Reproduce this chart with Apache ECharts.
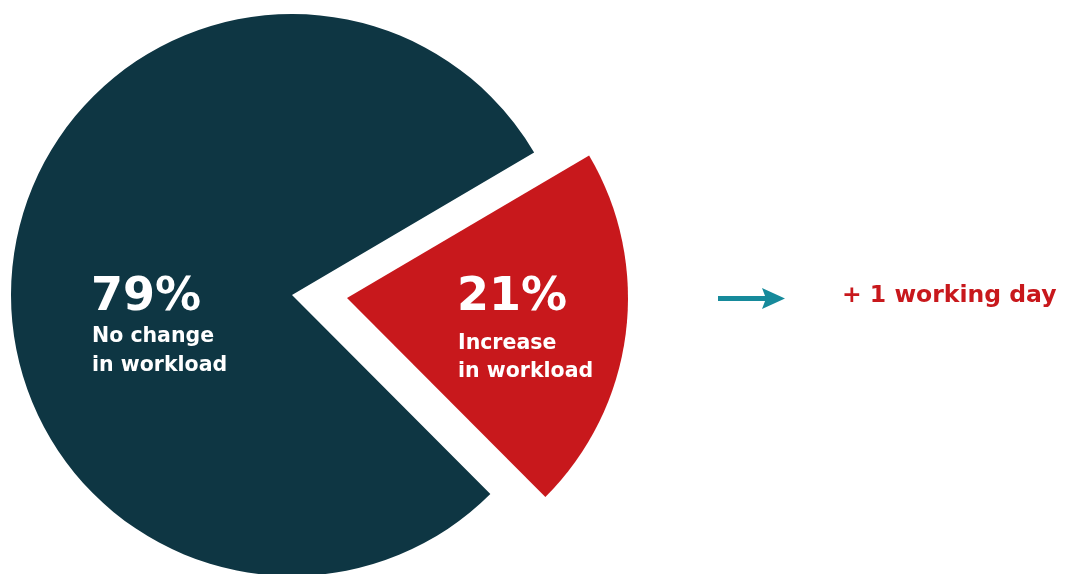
<!DOCTYPE html>
<html>
<head>
<meta charset="utf-8">
<script src="https://cdn.jsdelivr.net/npm/echarts@6/dist/echarts.min.js"></script>
<style>
html,body{margin:0;padding:0;background:#fff;}
#c{width:1065px;height:574px;}
</style>
</head>
<body>
<div id="c"></div>
<script>
const categories = ['Increase in workload', 'No change in workload'];
const values = [21, 79];
const percentLabels = ['21%', '79%'];
const labelLines = [['Increase', 'in workload'], ['No change', 'in workload']];
const sideNote = '+ 1 working day';

const DARK = '#0e3643';
const RED = '#c8181c';
const TEAL = '#168a9b';
const FONT = '"DejaVu Sans", sans-serif';

const chart = echarts.init(document.getElementById('c'), null, {renderer: 'canvas'});

function pieSeries(center, visibleIndex, color) {
  return {
    type: 'pie',
    center: center,
    radius: [0, 281],
    startAngle: 30.5,
    clockwise: true,
    silent: true,
    animation: false,
    z: 1,
    label: {show: false},
    labelLine: {show: false},
    data: categories.map((name, i) => ({
      name: name,
      value: values[i],
      itemStyle: {color: i === visibleIndex ? color : 'rgba(0,0,0,0)'}
    }))
  };
}

chart.setOption({
  backgroundColor: '#fff',
  series: [
    pieSeries([292, 295], 1, DARK),
    pieSeries([347, 298], 0, RED)
  ],
  graphic: {
    elements: [
      {type: 'text', z: 100, left: 91, top: 275, style: {text: percentLabels[1], fill: '#fff', font: 'bold 46px ' + FONT}},
      {type: 'text', z: 100, left: 92, top: 322, style: {text: labelLines[1].join('\n'), fill: '#fff', font: 'bold 20.5px ' + FONT, lineHeight: 29}},
      {type: 'text', z: 100, left: 457, top: 275, style: {text: percentLabels[0], fill: '#fff', font: 'bold 46px ' + FONT}},
      {type: 'text', z: 100, left: 458, top: 330, style: {text: labelLines[0].join('\n'), fill: '#fff', font: 'bold 20.5px ' + FONT, lineHeight: 28}},
      {type: 'rect', z: 100, shape: {x: 718, y: 296, width: 50, height: 5}, style: {fill: TEAL}},
      {type: 'polygon', z: 100, shape: {points: [[762, 288], [785, 298.5], [762, 309], [766, 298.5]]}, style: {fill: TEAL}},
      {type: 'text', z: 100, left: 842, top: 284, style: {text: sideNote, fill: RED, font: 'bold 23.5px ' + FONT}}
    ]
  }
});
</script>
</body>
</html>
